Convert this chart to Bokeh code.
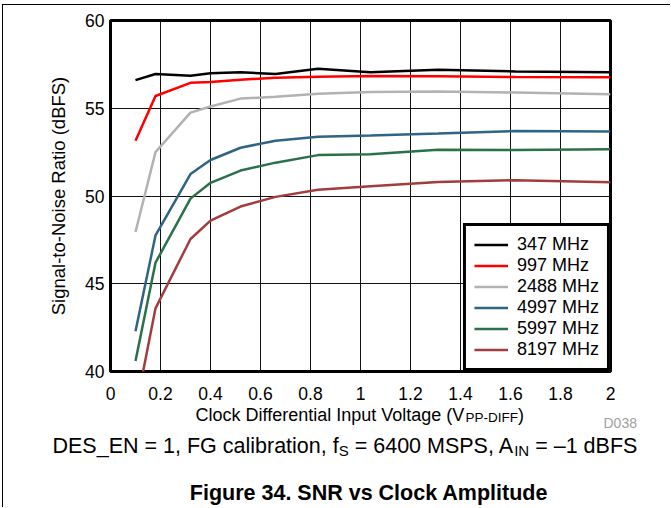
from bokeh.plotting import figure
from bokeh.layouts import column
from bokeh.models import (Legend, LegendItem, NumeralTickFormatter,
                          FixedTicker, Range1d, ColumnDataSource)
from bokeh.core.properties import value
from bokeh.embed import file_html
from bokeh.resources import INLINE

# ---- data ----
clock_vpp = [0.1, 0.18, 0.32, 0.4, 0.52, 0.66, 0.83, 1.04, 1.31, 1.62, 2.0]
snr_347 = [56.6, 56.95, 56.85, 57.0, 57.05, 56.95, 57.25, 57.05, 57.2, 57.1, 57.05]
snr_997 = [53.15, 55.7, 56.45, 56.5, 56.63, 56.74, 56.8, 56.84, 56.82, 56.78, 56.76]
snr_2488 = [47.95, 52.5, 54.75, 55.1, 55.55, 55.65, 55.83, 55.92, 55.95, 55.9, 55.8]
snr_4997 = [42.3, 47.75, 51.25, 52.05, 52.75, 53.15, 53.37, 53.45, 53.56, 53.7, 53.68]
snr_5997 = [40.6, 46.2, 49.85, 50.75, 51.45, 51.9, 52.33, 52.38, 52.63, 52.62, 52.67]
snr_8197 = [37.8, 43.6, 47.55, 48.6, 49.4, 49.95, 50.35, 50.55, 50.8, 50.9, 50.78]

series_labels = ["347 MHz", "997 MHz", "2488 MHz", "4997 MHz", "5997 MHz", "8197 MHz"]
series_values = [snr_347, snr_997, snr_2488, snr_4997, snr_5997, snr_8197]
series_colors = ["#000000", "#FF0000", "#B2B2B2", "#2E6484", "#2A7049", "#A33C3C"]

x_ticks = [0, 0.2, 0.4, 0.6, 0.8, 1.0, 1.2, 1.4, 1.6, 1.8, 2.0]
y_ticks = [40, 45, 50, 55, 60]

y_title = "Signal-to-Noise Ratio (dBFS)"
# text pieces below the chart (x-title with subscript, id, conditions, caption)
note_texts = ["Clock Differential Input Voltage (V", "PP-DIFF", ")",
              "D038",
              "DES_EN = 1, FG calibration, f", "S", "= 6400 MSPS, A", "IN",
              "= \u20131 dBFS",
              "Figure 34. SNR vs Clock Amplitude"]

FONT = "Liberation Sans"
W = 667          # content width (page x 3 .. 670)
OX, OY = 3, 5    # page position of the content origin
H1 = 401         # chart canvas: page y 5 .. 406
H2 = 101         # notes canvas: page y 406 .. 507

# ---------------- chart ----------------
p = figure(width=W, height=H1, x_range=Range1d(0, 2), y_range=Range1d(40, 60),
           output_backend="svg", toolbar_location=None,
           min_border_left=110 - OX, min_border_right=W - (110 - OX) - 500,
           min_border_top=20 - OY, min_border_bottom=H1 - (20 - OY) - 351)
p.frame_align = False

p.background_fill_color = "white"
p.border_fill_color = "white"
p.outline_line_color = "black"
p.outline_line_width = 3
p.outline_line_alpha = 1

p.xaxis.ticker = FixedTicker(ticks=x_ticks)
p.yaxis.ticker = FixedTicker(ticks=y_ticks)
p.xaxis.formatter = NumeralTickFormatter(format="0.[0]")
for ax in (p.xaxis, p.yaxis):
    ax.axis_line_color = None
    ax.major_tick_line_color = None
    ax.minor_tick_line_color = None
    ax.major_tick_out = 0
    ax.major_tick_in = 0
    ax.minor_tick_out = 0
    ax.minor_tick_in = 0
    ax.major_label_text_font = FONT
    ax.major_label_text_color = "black"
    ax.major_label_text_font_size = "17.5px"
p.xaxis.major_label_standoff = 15
p.yaxis.major_label_standoff = 6

p.yaxis.axis_label = y_title
p.yaxis.axis_label_text_font = FONT
p.yaxis.axis_label_text_font_size = "18.5px"
p.yaxis.axis_label_text_font_style = "normal"
p.yaxis.axis_label_text_color = "black"
p.yaxis.axis_label_standoff = 13

p.xgrid.grid_line_color = "#111111"
p.ygrid.grid_line_color = "#111111"
p.xgrid.grid_line_width = 1
p.ygrid.grid_line_width = 1

items = []
for lab_txt, vals, col in zip(series_labels, series_values, series_colors):
    r = p.line(clock_vpp, vals, line_color=col, line_width=2.5)
    items.append(LegendItem(label=lab_txt, renderers=[r]))

legend = Legend(items=items, location="bottom_right", margin=0, padding=8,
                spacing=0, glyph_width=34, glyph_height=21, label_height=21,
                label_standoff=9, label_text_font=FONT, label_text_font_size="18px",
                label_text_color="black",
                border_line_color="black", border_line_width=3, border_line_alpha=1,
                background_fill_color="white", background_fill_alpha=1)
p.add_layout(legend, "center")

# ---------------- texts below the chart ----------------
q = figure(width=W, height=H2, x_range=Range1d(OX, OX + W), y_range=Range1d(406 + H2, 406),
           output_backend="svg", toolbar_location=None,
           min_border_left=0, min_border_right=0, min_border_top=0, min_border_bottom=0)
q.frame_align = False
q.axis.visible = False
q.grid.visible = False
q.outline_line_color = None
q.background_fill_color = "white"
q.border_fill_color = "white"

# positions are page pixels (layout only)
src = ColumnDataSource(dict(
    text=note_texts,
    x=[195, 465, 517.5, 603, 52, 338.2, 354.2, 513.7, 534.7, 368.5],
    y=[414.5, 416.5, 414.5, 422, 445.5, 449.5, 445.5, 449.5, 445.5, 492],
    size=["18px", "13.5px", "18px", "14px", "21.5px", "15px", "21.5px", "15px",
          "21.5px", "21.5px"],
    style=["normal"] * 9 + ["bold"],
    color=["black", "black", "black", "#A0A0A0"] + ["black"] * 6,
    align=["left"] * 9 + ["center"],
))
q.text(x="x", y="y", text="text", source=src, text_font=value(FONT),
       text_font_size="size", text_font_style="style", text_color="color",
       text_align="align", text_baseline="alphabetic")

layout = column(p, q, spacing=0,
                styles={"margin-left": "2px", "margin-top": "4px",
                        "border-left": "1px solid black",
                        "border-top": "1px solid black"})
open("out.html", "w").write(file_html(layout, INLINE))
